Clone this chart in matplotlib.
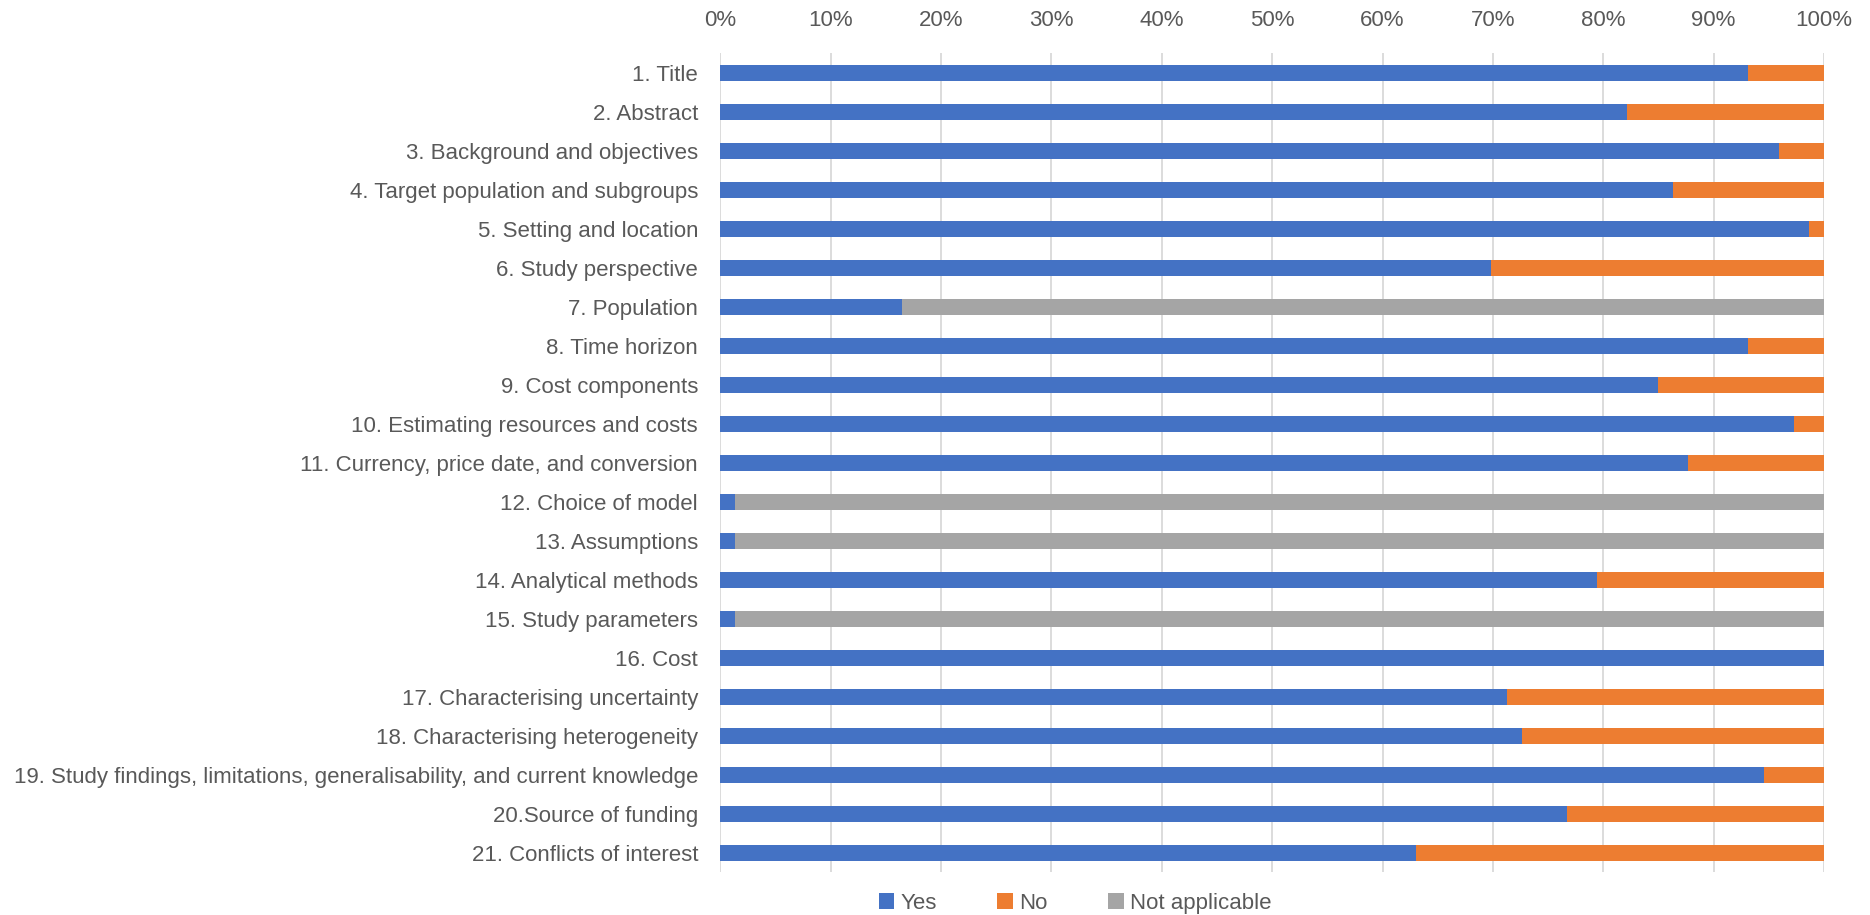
import numpy as np
import matplotlib.pyplot as plt

# counts per CHEERS item, out of 73 studies
items = [
    '1. Title',
    '2. Abstract',
    '3. Background and objectives',
    '4. Target population and subgroups',
    '5. Setting and location',
    '6. Study perspective',
    '7. Population',
    '8. Time horizon',
    '9. Cost components',
    '10. Estimating resources and costs',
    '11. Currency, price date, and conversion',
    '12. Choice of model',
    '13. Assumptions',
    '14. Analytical methods',
    '15. Study parameters',
    '16. Cost',
    '17. Characterising uncertainty',
    '18. Characterising heterogeneity',
    '19. Study findings, limitations, generalisability, and current knowledge',
    '20.Source of funding',
    '21. Conflicts of interest',
]
yes_counts = [68, 60, 70, 63, 72, 51, 12, 68, 62, 71, 64, 1, 1, 58, 1, 73, 52, 53, 69, 56, 46]
no_counts = [5, 13, 3, 10, 1, 22, 0, 5, 11, 2, 9, 0, 0, 15, 0, 0, 21, 20, 4, 17, 27]
na_counts = [0, 0, 0, 0, 0, 0, 61, 0, 0, 0, 0, 72, 72, 0, 72, 0, 0, 0, 0, 0, 0]

series_names = ['Yes', 'No', 'Not applicable']
colors = ['#4472C4', '#ED7D31', '#A5A5A5']

plt.rcParams['font.family'] = ['Liberation Sans', 'DejaVu Sans']
fs = 16

data = np.array([yes_counts, no_counts, na_counts], dtype=float)
pct = data / data.sum(axis=0) * 100

fig = plt.figure(figsize=(18.7, 9.15), dpi=100)
ax = fig.add_axes([0.3852, 0.0467, 0.5902, 0.8950])

y = np.arange(len(items))
left = np.zeros(len(items))
for i, name in enumerate(series_names):
    ax.barh(y, pct[i], left=left, height=0.4, color=colors[i], label=name, zorder=3)
    left += pct[i]

ax.set_xlim(0, 100)
ax.set_ylim(len(items) - 0.5, -0.5)
ax.set_xticks(np.arange(0, 101, 10))
ax.set_xticklabels([f'{v}%' for v in range(0, 101, 10)])
ax.set_yticks(y)
ax.set_yticklabels(items)
ax.xaxis.tick_top()
ax.tick_params(axis='both', length=0, labelsize=fs, labelcolor='#595959')
ax.tick_params(axis='x', pad=16)
ax.tick_params(axis='y', pad=16)
ax.grid(axis='x', color='#D9D9D9', linewidth=1.3, zorder=0)
for s in ax.spines.values():
    s.set_visible(False)

fig.legend(loc='center', bbox_to_anchor=(0.575, 0.013), ncol=3, frameon=False,
           fontsize=fs, labelcolor='#595959', handlelength=0.7, handleheight=0.7,
           handletextpad=0.3, columnspacing=2.7)

plt.savefig('out.png', dpi=100)
